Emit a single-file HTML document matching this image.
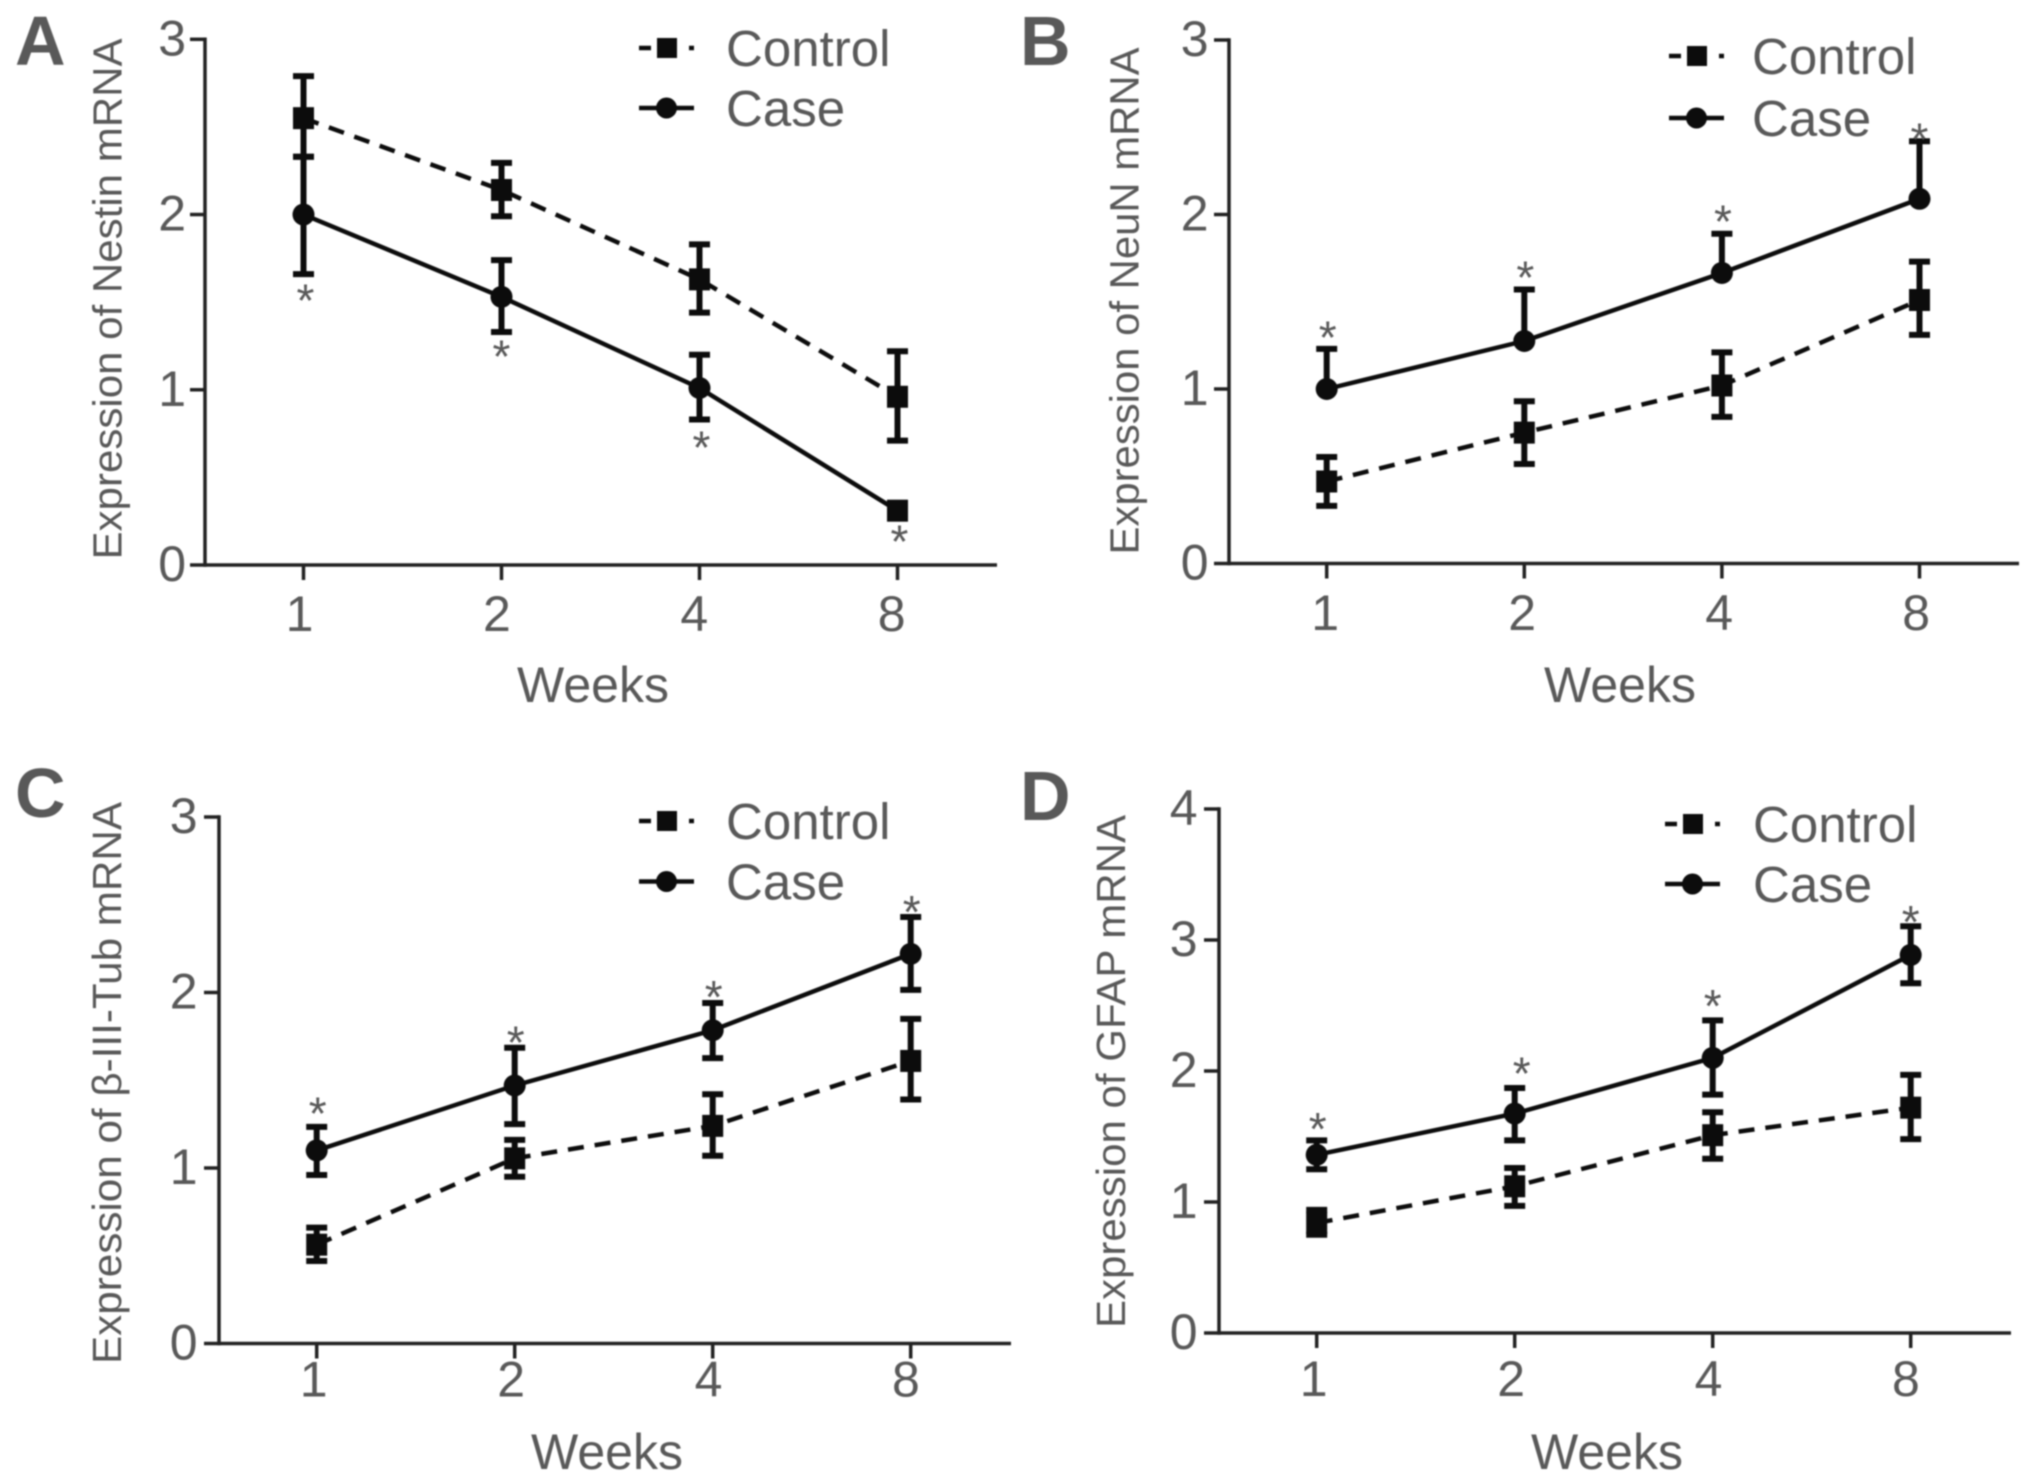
<!DOCTYPE html>
<html lang="en">
<head>
<meta charset="utf-8">
<title>Expression of Nestin, NeuN, β-III-Tub and GFAP mRNA</title>
<style>
html,body{margin:0;padding:0;background:#fff;width:2031px;height:1481px;overflow:hidden}
svg{display:block;filter:blur(0.8px)}
text{font-family:"Liberation Sans",Arial,sans-serif;fill:#595959}
</style>
</head>
<body>
<svg id="figure" xmlns="http://www.w3.org/2000/svg" width="2031" height="1481" viewBox="0 0 2031 1481"></svg>
<script>
const categories = ['1', '2', '4', '8'];
const ticksThree = [0, 1, 2, 3];
const ticksFour = [0, 1, 2, 3, 4];

const controlA = [2.55, 2.14, 1.63, 0.96];
const controlTopA = [2.79, 2.295, 1.83, 1.22];
const controlLowA = [2.33, 1.99, 1.44, 0.71];
const caseA = [2.0, 1.53, 1.01, 0.31];
const caseTopA = [2.33, 1.74, 1.2, 0.31];
const caseLowA = [1.66, 1.33, 0.83, 0.31];
const starsA = [1.55, 1.23, 0.71, 0.175];
const caseMarkersA = ['circle', 'circle', 'circle', 'square'];

const controlB = [0.47, 0.75, 1.02, 1.51];
const controlTopB = [0.61, 0.93, 1.21, 1.73];
const controlLowB = [0.33, 0.57, 0.84, 1.31];
const caseB = [1.0, 1.275, 1.665, 2.09];
const caseTopB = [1.23, 1.57, 1.89, 2.42];
const caseLowB = [1.0, 1.275, 1.665, 2.09];
const starsB = [1.335, 1.68, 2.0, 2.47];
const caseMarkersB = ['circle', 'circle', 'circle', 'circle'];

const controlC = [0.563, 1.055, 1.24, 1.61];
const controlTopC = [0.66, 1.16, 1.42, 1.85];
const controlLowC = [0.47, 0.95, 1.07, 1.39];
const caseC = [1.1, 1.47, 1.785, 2.22];
const caseTopC = [1.234, 1.685, 1.94, 2.43];
const caseLowC = [0.96, 1.25, 1.626, 2.015];
const starsC = [1.35, 1.755, 2.015, 2.5];
const caseMarkersC = ['circle', 'circle', 'circle', 'circle'];

const controlD = [0.84, 1.12, 1.51, 1.72];
const controlTopD = [0.94, 1.26, 1.685, 1.97];
const controlLowD = [0.75, 0.97, 1.33, 1.48];
const caseD = [1.36, 1.675, 2.1, 2.886];
const caseTopD = [1.47, 1.87, 2.386, 3.105];
const caseLowD = [1.25, 1.47, 1.82, 2.67];
const starsD = [1.61, 2.035, 2.55, 3.19];
const caseMarkersD = ['circle', 'circle', 'circle', 'circle'];

const INK = '#0c0c0c';
const AXIS = '#222';
const figure = document.getElementById('figure');

function make(parent, tag, attrs, content) {
  const node = document.createElementNS('http://www.w3.org/2000/svg', tag);
  for (const key in attrs) node.setAttribute(key, attrs[key]);
  if (content !== undefined) node.textContent = content;
  parent.appendChild(node);
  return node;
}

function drawMarker(parent, kind, x, y, series) {
  let mark;
  if (kind === 'square') {
    mark = make(parent, 'rect', { x: x - 10.5, y: y - 11, width: 21, height: 22, fill: INK });
  } else {
    mark = make(parent, 'circle', { cx: x, cy: y, r: 11, fill: INK });
  }
  
  
}

function drawSeries(parent, series, values, tops, lows, kinds, xAt, yAt, dashed) {
  const group = make(parent, 'g', {});
  
  

  const points = values.map((v, i) => xAt(i) + ',' + yAt(v)).join(' ');
  const line = make(group, 'polyline', {
    points: points, fill: 'none', stroke: INK, 'stroke-width': 4.5,
    'stroke-dasharray': dashed ? '16 11' : 'none'
  });
  
  

  values.forEach((v, i) => {
    const x = xAt(i);
    const yTop = yAt(tops[i]);
    const yLow = yAt(lows[i]);
    if (yLow - yTop > 1) {
      const bar = make(group, 'path', {
        d: 'M' + x + ' ' + yTop + 'V' + yLow +
           'M' + (x - 10.5) + ' ' + yTop + 'H' + (x + 10.5) +
           'M' + (x - 10.5) + ' ' + yLow + 'H' + (x + 10.5),
        fill: 'none', stroke: INK, 'stroke-width': 6
      });
      
      
    }
    drawMarker(group, kinds[i], x, yAt(v), series);
  });
}

function drawPanel(p) {
  const root = make(figure, 'g', {});
  
  

  const yMax = p.ticks[p.ticks.length - 1];
  const yAt = v => p.y0 - (v / yMax) * (p.y0 - p.yTop);
  const xAt = i => p.x1 + i * p.dx;

  const letter = make(root, 'text', { x: p.letterX, y: p.letterY, 'font-size': 70, 'font-weight': 'bold' }, p.letter);
  
  

  const yAxis = make(root, 'path', {
    d: 'M' + p.axisX + ' ' + (p.yTop - 1.75) + 'V' + (p.y0 + 1.75),
    stroke: AXIS, 'stroke-width': 3.5, fill: 'none'
  });
  
  

  const xAxis = make(root, 'path', {
    d: 'M' + (p.axisX - 15) + ' ' + p.y0 + 'H' + p.xEnd,
    stroke: AXIS, 'stroke-width': 3.5, fill: 'none'
  });
  
  

  p.ticks.forEach(t => {
    const y = yAt(t);
    if (t > 0) {
      const mark = make(root, 'path', {
        d: 'M' + (p.axisX - 15) + ' ' + y + 'H' + p.axisX,
        stroke: AXIS, 'stroke-width': 3.5, fill: 'none'
      });
      
      
    }
    const label = make(root, 'text', {
      x: p.yLabelRight, y: y + 16, 'font-size': 50, 'text-anchor': 'end'
    }, String(t));
    
    
  });

  categories.forEach((c, i) => {
    const x = xAt(i);
    const mark = make(root, 'path', {
      d: 'M' + x + ' ' + p.y0 + 'V' + (p.y0 + 15),
      stroke: AXIS, 'stroke-width': 3.5, fill: 'none'
    });
    
    
    const label = make(root, 'text', {
      x: x + p.xLabelShift - i * 0.6, y: p.xLabelY, 'font-size': 50, 'text-anchor': 'middle'
    }, c);
    
    
  });

  const xTitle = make(root, 'text', {
    x: p.xTitleX, y: p.xTitleY, 'font-size': 50, 'text-anchor': 'middle'
  }, 'Weeks');
  
  

  const yTitle = make(root, 'text', {
    transform: 'translate(' + p.yTitleX + ' ' + p.yTitleY + ') rotate(-90)',
    'font-size': 41, 'text-anchor': 'middle',
    textLength: p.yTitleLen, lengthAdjust: 'spacingAndGlyphs'
  }, p.yTitle);
  
  

  drawSeries(root, 'control', p.control, p.controlTop, p.controlLow,
    ['square', 'square', 'square', 'square'], xAt, yAt, true);
  drawSeries(root, 'case', p.cases, p.caseTop, p.caseLow, p.caseMarkers, xAt, yAt, false);

  p.stars.forEach((s, i) => {
    const star = make(root, 'text', {
      x: xAt(i) + p.starNudge[i], y: yAt(s) + 23, 'font-size': 46, 'text-anchor': 'middle'
    }, '*');
    
    
  });

  const legend = make(root, 'g', {});
  
  

  const controlKey = make(legend, 'path', {
    d: 'M' + p.legendX + ' ' + p.legendY1 + 'h12M' + (p.legendX + 50) + ' ' + p.legendY1 + 'h5',
    stroke: INK, 'stroke-width': 4.5, fill: 'none'
  });
  
  
  const controlMark = make(legend, 'rect', {
    x: p.legendX + 18, y: p.legendY1 - 10, width: 20, height: 20, fill: INK
  });
  
  
  const controlText = make(legend, 'text', {
    x: p.legendTextX, y: p.legendY1 + 18, 'font-size': 51
  }, 'Control');
  
  

  const caseKey = make(legend, 'path', {
    d: 'M' + p.legendX + ' ' + p.legendY2 + 'h55',
    stroke: INK, 'stroke-width': 4.5, fill: 'none'
  });
  
  
  const caseMark = make(legend, 'circle', {
    cx: p.legendX + 27.5, cy: p.legendY2, r: 10.5, fill: INK
  });
  
  
  const caseText = make(legend, 'text', {
    x: p.legendTextX, y: p.legendY2 + 18, 'font-size': 51
  }, 'Case');
  
  
}

drawPanel({
  letter: 'A', letterX: 15, letterY: 65,
  axisX: 205, y0: 565, yTop: 39.3, x1: 303.5, dx: 198, xEnd: 997,
  ticks: ticksThree, yLabelRight: 186, xLabelY: 631, xLabelShift: -4,
  xTitleX: 593, xTitleY: 702,
  yTitle: 'Expression of Nestin mRNA', yTitleX: 121.5, yTitleY: 299, yTitleLen: 521,
  control: controlA, controlTop: controlTopA, controlLow: controlLowA,
  cases: caseA, caseTop: caseTopA, caseLow: caseLowA,
  caseMarkers: caseMarkersA, stars: starsA, starNudge: [2, 0, 2, 2],
  legendX: 639, legendY1: 48, legendY2: 108, legendTextX: 726
});

drawPanel({
  letter: 'B', letterX: 1020, letterY: 65,
  axisX: 1229, y0: 563.5, yTop: 40, x1: 1326.7, dx: 197.6, xEnd: 2019,
  ticks: ticksThree, yLabelRight: 1208.5, xLabelY: 630, xLabelShift: -1.5,
  xTitleX: 1620, xTitleY: 702,
  yTitle: 'Expression of NeuN mRNA', yTitleX: 1138.5, yTitleY: 301, yTitleLen: 507,
  control: controlB, controlTop: controlTopB, controlLow: controlLowB,
  cases: caseB, caseTop: caseTopB, caseLow: caseLowB,
  caseMarkers: caseMarkersB, stars: starsB, starNudge: [1, 1, 1, 0],
  legendX: 1669, legendY1: 56, legendY2: 118, legendTextX: 1752
});

drawPanel({
  letter: 'C', letterX: 15, letterY: 817,
  axisX: 219, y0: 1343.5, yTop: 817, x1: 316.7, dx: 198, xEnd: 1011,
  ticks: ticksThree, yLabelRight: 197.5, xLabelY: 1396.7, xLabelShift: -3,
  xTitleX: 607, xTitleY: 1469,
  yTitle: 'Expression of β-III-Tub mRNA', yTitleX: 121, yTitleY: 1083, yTitleLen: 562,
  control: controlC, controlTop: controlTopC, controlLow: controlLowC,
  cases: caseC, caseTop: caseTopC, caseLow: caseLowC,
  caseMarkers: caseMarkersC, stars: starsC, starNudge: [1, 1, 1, 1],
  legendX: 639, legendY1: 821, legendY2: 881.5, legendTextX: 726
});

drawPanel({
  letter: 'D', letterX: 1020, letterY: 820,
  axisX: 1219, y0: 1333, yTop: 809, x1: 1316.7, dx: 198, xEnd: 2011,
  ticks: ticksFour, yLabelRight: 1197.5, xLabelY: 1396, xLabelShift: -3,
  xTitleX: 1607, xTitleY: 1469,
  yTitle: 'Expression of GFAP mRNA', yTitleX: 1125, yTitleY: 1071.5, yTitleLen: 513,
  control: controlD, controlTop: controlTopD, controlLow: controlLowD,
  cases: caseD, caseTop: caseTopD, caseLow: caseLowD,
  caseMarkers: caseMarkersD, stars: starsD, starNudge: [1, 7, 0, 0],
  legendX: 1665, legendY1: 824, legendY2: 884, legendTextX: 1753
});
</script>
</body>
</html>
